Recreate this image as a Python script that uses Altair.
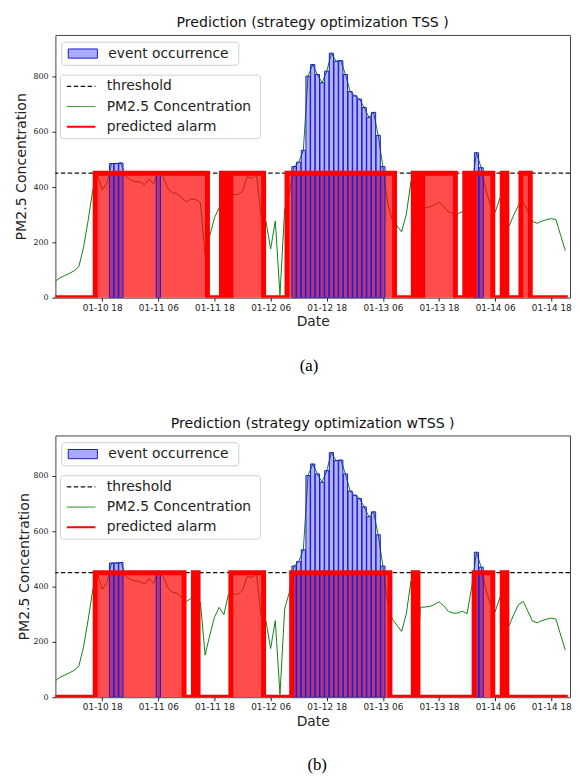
import altair as alt
import pandas as pd

THRESHOLD = 450
START = "2018-01-10 08:00"

# hourly PM2.5 concentration, 01-10 08:00 .. 01-14 21:00
pm25 = [60, 72, 80, 88, 97, 112, 180, 280, 390, 444,
        390, 414, 485, 485, 487, 438, 426, 420, 419, 408,
        428, 412, 455, 438, 396, 379, 376, 361, 346, 357,
        355, 343, 152, 224, 289, 325, 298, 373, 373, 373,
        385, 438, 432, 444, 289, 277, 176, 277, 10, 319,
        379, 474, 490, 533, 801, 843, 807, 777, 819, 884,
        855, 857, 807, 745, 730, 718, 688, 652, 670, 587,
        474, 343, 283, 260, 238, 301, 420, 5, 325, 326,
        328, 335, 345, 331, 310, 304, 304, 311, 302, 400,
        524, 470, 390, 335, 309, 360, 310, 260, 300, 335,
        346, 310, 275, 269, 277, 282, 286, 282, 225, 170]

# predicted alarm runs (first hour index, last hour index)
alarm_runs_tss = [(9, 32), (36, 36), (38, 44), (50, 72), (77, 77), (79, 85),
                  (88, 88), (90, 93), (96, 96), (100, 101)]
alarm_runs_wtss = [(9, 27), (30, 30), (38, 44), (51, 71), (77, 77), (90, 93), (96, 96)]

tick_times = ["2018-01-10 18:00", "2018-01-11 06:00", "2018-01-11 18:00",
              "2018-01-12 06:00", "2018-01-12 18:00", "2018-01-13 06:00",
              "2018-01-13 18:00", "2018-01-14 06:00", "2018-01-14 18:00"]
x_range = ["2018-01-10 08:00", "2018-01-14 22:00"]

legend_top = ["event occurrence"]
legend_lines = ["threshold", "PM2.5 Concentration", "predicted alarm"]
titles = ["Prediction (strategy optimization TSS )", "Prediction (strategy optimization wTSS )"]
captions = ["(a)", "(b)"]


def flags(runs, n):
    f = [0] * n
    for a, b in runs:
        for i in range(a, b + 1):
            f[i] = 1
    return f


times = pd.date_range(START, periods=len(pm25), freq="h")
df = pd.DataFrame({
    "time": times,
    "pm": pm25,
    "bar_start": times - pd.Timedelta(minutes=27),
    "bar_end": times + pd.Timedelta(minutes=27),
    "alarm_tss": flags(alarm_runs_tss, len(pm25)),
    "alarm_wtss": flags(alarm_runs_wtss, len(pm25)),
})


def dt(s):
    t = pd.Timestamp(s)
    return alt.DateTime(year=t.year, month=t.month, date=t.day, hours=t.hour, minutes=t.minute)


FONT = "DejaVu Sans"
W = 521
PAD_LEFT = -8


def make_panel(title, caption, alarm_col, height, ymax, spacer_x, caption_x, bottom_spacer, ytitle_pad):
    xs = alt.Scale(domain=[dt(x_range[0]), dt(x_range[1])])
    ys = alt.Scale(domain=[0, ymax], nice=False, zero=True)
    xaxis = alt.Axis(values=[dt(t) for t in tick_times], format="%m-%d %H",
                     labelFontSize=9, labelPadding=2, tickSize=3.5, grid=False,
                     domain=False, titleFontSize=14, titlePadding=3,
                     labelColor="#222", tickColor="#222", titleColor="#222")
    yaxis = alt.Axis(values=[0, 200, 400, 600, 800], labelFontSize=8, labelPadding=4,
                     tickSize=3.5, grid=False, domain=False, titleFontSize=14.3,
                     titlePadding=ytitle_pad, labelColor="#222", tickColor="#222", titleColor="#222")

    def X(f):
        return alt.X(f, type="temporal", scale=xs, axis=xaxis, title="Date")

    def Y(f):
        return alt.Y(f, type="quantitative", scale=ys, axis=yaxis, title="PM2.5 Concentration")

    base = alt.Chart(df)
    level = f"datum.{alarm_col} * {THRESHOLD}"

    thr = alt.Chart(pd.DataFrame({"thr": [THRESHOLD]})).mark_rule(
        color="#111", strokeDash=[4.5, 2.5], strokeWidth=1.3).encode(y=Y("thr"))
    green = base.mark_line(color="#108010", strokeWidth=1, clip=True).encode(x=X("time"), y=Y("pm"))
    fill = base.transform_calculate(level=level).mark_area(
        interpolate="step", color="#ff0000", opacity=0.7, clip=True).encode(x=X("time"), y=Y("level"))
    bars = base.transform_filter(f"datum.pm > {THRESHOLD}").mark_rect(
        fill="#0000ff", fillOpacity=0.3, stroke="#1a1acc", strokeWidth=1, clip=True).encode(
        x=X("bar_start"), x2=alt.X2("bar_end"), y=Y("pm"), y2=alt.datum(0))
    red = base.transform_calculate(level=level).mark_line(
        interpolate="step", color="#ff0000", strokeWidth=5, clip=True, strokeCap="square").encode(
        x=X("time"), y=Y("level"))

    one = pd.DataFrame({"k": [0]})
    layers = [thr, green, fill, bars, red]

    # legend 1
    layers.append(alt.Chart(one).mark_rect(fill="white", stroke="#cfcfcf", strokeWidth=1, cornerRadius=3).encode(
        x=alt.value(6.4), x2=alt.value(185.7), y=alt.value(7.3), y2=alt.value(30.7)))
    layers.append(alt.Chart(one).mark_rect(fill="#aaaaff", stroke="#1a1acc", strokeWidth=1).encode(
        x=alt.value(13), x2=alt.value(42.5), y=alt.value(14.2), y2=alt.value(23.5)))
    layers.append(alt.Chart(pd.DataFrame({"label": legend_top})).mark_text(
        align="left", baseline="middle", fontSize=14, font=FONT, color="#222").encode(
        text="label:N", x=alt.value(53.5), y=alt.value(19)))

    # legend 2
    layers.append(alt.Chart(one).mark_rect(fill="white", stroke="#cfcfcf", strokeWidth=1, cornerRadius=3).encode(
        x=alt.value(5), x2=alt.value(207.7), y=alt.value(40.7), y2=alt.value(105)))
    styles = [("#111", [4.5, 2.5], 1.3), ("#108010", [1, 0], 1), ("#ff0000", [1, 0], 2)]
    for i, (lab, (col, dash, sw)) in enumerate(zip(legend_lines, styles)):
        yy = 52 + 20.5 * i
        layers.append(alt.Chart(one).mark_rule(color=col, strokeDash=dash, strokeWidth=sw).encode(
            x=alt.value(11.6), x2=alt.value(40.5), y=alt.value(yy)))
        layers.append(alt.Chart(pd.DataFrame({"label": [lab]})).mark_text(
            align="left", baseline="middle", fontSize=14, font=FONT, color="#222").encode(
            text="label:N", x=alt.value(52), y=alt.value(yy)))

    # caption
    layers.append(alt.Chart(pd.DataFrame({"cap": [caption]})).mark_text(
        align="center", baseline="middle", fontSize=17, font="Liberation Serif", color="#000").encode(
        text="cap:N", x=alt.value(caption_x), y=alt.value(height + 69)))

    # layout spacer (white, defines the panel's outer bounds)
    layers.append(alt.Chart(one).mark_rule(color="white", strokeWidth=1).encode(
        x=alt.value(spacer_x), y=alt.value(0), y2=alt.value(bottom_spacer)))

    return alt.layer(*layers).properties(
        width=W, height=height,
        title=alt.TitleParams(title, fontSize=14.3, font=FONT, fontWeight="normal", color="#111",
                              frame="group", anchor="middle", baseline="bottom", offset=-10),
    )


# page x of each plot's left edge: (a) 54.3, (b) ~46
pa = make_panel(titles[0], captions[0], "alarm_tss", 266, 950, -(54.3 - 8 - PAD_LEFT), 311 - 54.3, 351, 5)
pb = make_panel(titles[1], captions[1], "alarm_wtss", 265, 946, -30, 311 - 46, 0, 1)

chart = alt.ConcatChart(concat=[pa, pb], columns=1, spacing=33.5, align="none", bounds="full").resolve_scale(
    x="independent", y="independent"
).properties(
    padding={"left": PAD_LEFT, "top": 2.5, "right": 0, "bottom": 0}
).configure_view(stroke="#444", strokeWidth=1).configure_axis(labelFont=FONT, titleFont=FONT, titleFontWeight="normal")

chart.save("out.html", embed_options={"renderer": "svg", "actions": False})
